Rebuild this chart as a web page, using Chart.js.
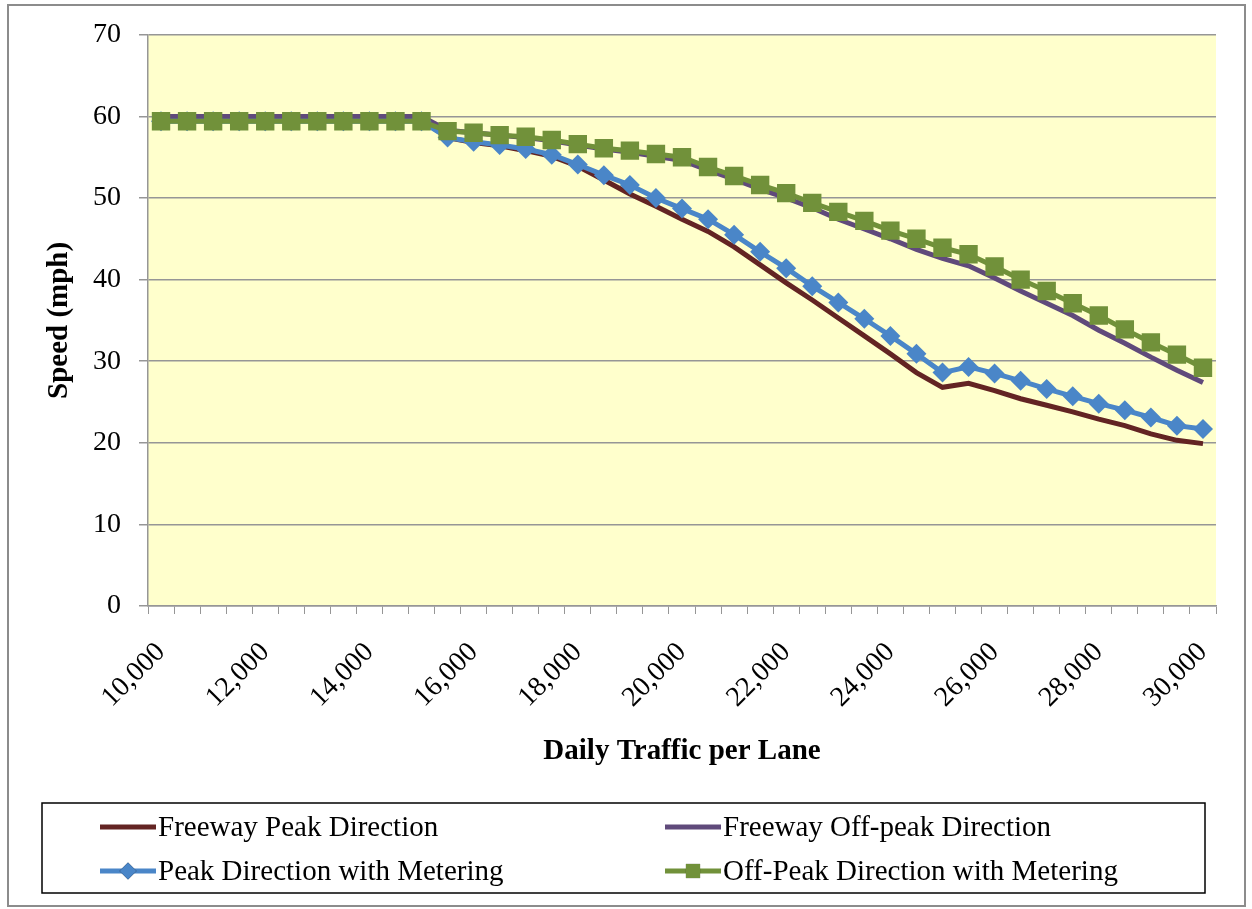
<!DOCTYPE html>
<html>
<head>
<meta charset="utf-8">
<title>Speed vs Daily Traffic per Lane</title>
<script src="https://cdn.jsdelivr.net/npm/chart.js@4.4.0/dist/chart.umd.min.js"></script>
<style>
  * { margin: 0; padding: 0; }
  body { background: #fff; }
  #chart { display: block; }
</style>
</head>
<body>
<canvas id="chart" width="1252" height="909"></canvas>
<script>
// daily traffic per lane (categories)
const traffic = [10000, 10500, 11000, 11500, 12000, 12500, 13000, 13500, 14000, 14500,
                 15000, 15500, 16000, 16500, 17000, 17500, 18000, 18500, 19000, 19500,
                 20000, 20500, 21000, 21500, 22000, 22500, 23000, 23500, 24000, 24500,
                 25000, 25500, 26000, 26500, 27000, 27500, 28000, 28500, 29000, 29500, 30000];

// speeds (mph)
const freewayPeak = [59.6, 59.6, 59.6, 59.6, 59.6, 59.6, 59.6, 59.6, 59.6, 59.6,
                     59.6, 57.4, 56.8, 56.4, 55.8, 55.1, 53.9, 52.2, 50.5, 49.0,
                     47.4, 45.9, 44.0, 41.8, 39.6, 37.5, 35.3, 33.1, 30.9, 28.6,
                     26.8, 27.3, 26.4, 25.4, 24.6, 23.8, 22.9, 22.1, 21.1, 20.3, 19.9];
const freewayOffPeak = [60.0, 60.0, 60.0, 60.0, 60.0, 60.0, 60.0, 60.0, 60.0, 60.0,
                        60.0, 58.3, 58.0, 57.7, 57.4, 57.0, 56.5, 56.0, 55.6, 55.1,
                        54.6, 53.4, 52.3, 51.1, 50.0, 48.8, 47.4, 46.2, 45.0, 43.7,
                        42.6, 41.7, 40.2, 38.6, 37.1, 35.6, 33.8, 32.2, 30.5, 28.9, 27.4];
const peakMetering = [59.4, 59.4, 59.4, 59.4, 59.4, 59.4, 59.4, 59.4, 59.4, 59.4,
                      59.4, 57.4, 56.9, 56.5, 56.0, 55.3, 54.1, 52.8, 51.6, 50.0,
                      48.7, 47.4, 45.5, 43.4, 41.4, 39.2, 37.2, 35.2, 33.1, 30.9,
                      28.6, 29.3, 28.5, 27.6, 26.6, 25.7, 24.8, 24.0, 23.1, 22.1, 21.7];
const offPeakMetering = [59.4, 59.4, 59.4, 59.4, 59.4, 59.4, 59.4, 59.4, 59.4, 59.4,
                         59.4, 58.2, 58.0, 57.7, 57.5, 57.1, 56.6, 56.1, 55.8, 55.4,
                         55.0, 53.8, 52.7, 51.6, 50.6, 49.4, 48.3, 47.2, 46.0, 45.0,
                         43.9, 43.1, 41.6, 40.0, 38.6, 37.1, 35.6, 33.9, 32.3, 30.8, 29.2];

const seriesNames = ['Freeway Peak Direction', 'Freeway Off-peak Direction',
                     'Peak Direction with Metering', 'Off-Peak Direction with Metering'];

const FONT = 'Liberation Serif, "Times New Roman", serif';
const GRID = '#969696';

// plot background + outer frame
const bgPlugin = {
  id: 'bg',
  beforeDraw(chart) {
    const ctx = chart.ctx, a = chart.chartArea;
    ctx.save();
    ctx.fillStyle = '#fff';
    ctx.fillRect(0, 0, chart.width, chart.height);
    ctx.fillStyle = '#FFFFCC';
    ctx.fillRect(a.left, a.top, a.right - a.left, a.bottom - a.top);
    ctx.restore();
  },
  afterDraw(chart) {
    const ctx = chart.ctx;
    ctx.save();
    ctx.strokeStyle = '#8c8c8c';
    ctx.lineWidth = 2;
    ctx.strokeRect(8, 5, 1237, 901);
    ctx.restore();
  }
};

// boxed legend in two columns under the axis title
const legendPlugin = {
  id: 'boxLegend',
  afterDraw(chart) {
    const ctx = chart.ctx;
    ctx.save();
    ctx.strokeStyle = '#000';
    ctx.lineWidth = 1.5;
    ctx.strokeRect(42, 803, 1163, 90);
    const slots = [[100, 827], [665, 827], [100, 871], [665, 871]];
    chart.data.datasets.forEach((ds, i) => {
      const [x, y] = slots[i];
      ctx.strokeStyle = ds.borderColor;
      ctx.lineWidth = 5;
      ctx.beginPath();
      ctx.moveTo(x, y);
      ctx.lineTo(x + 56, y);
      ctx.stroke();
      if (ds.pointRadius > 0) {
        Chart.helpers.drawPoint(ctx, {
          pointStyle: ds.pointStyle,
          radius: ds.pointStyle === 'rect' ? 10 : 8.5,
          borderWidth: 0
        }, x + 28, y);
        ctx.fillStyle = ds.backgroundColor;
        ctx.fill();
      }
      ctx.fillStyle = '#000';
      ctx.font = '29px ' + FONT;
      ctx.textBaseline = 'middle';
      ctx.textAlign = 'left';
      ctx.fillText(ds.label, x + 58, y + 1);
    });
    ctx.restore();
  }
};

function lineSet(label, data, color, style, radius, width, order) {
  return {
    label: label,
    data: data,
    borderColor: color,
    backgroundColor: color,
    borderWidth: width,
    pointStyle: style,
    pointRadius: radius,
    pointBorderWidth: 0,
    pointBackgroundColor: color,
    tension: 0,
    order: order
  };
}

const config = {
  type: 'line',
  data: {
    labels: traffic,
    datasets: [
      lineSet(seriesNames[0], freewayPeak, '#632423', 'circle', 0, 5, 4),
      lineSet(seriesNames[1], freewayOffPeak, '#604A7B', 'circle', 0, 5, 3),
      lineSet(seriesNames[2], peakMetering, '#4A86C8', 'rectRot', 10, 5, 2),
      lineSet(seriesNames[3], offPeakMetering, '#71913A', 'rect', 13, 5, 1)
    ]
  },
  options: {
    responsive: false,
    animation: false,
    devicePixelRatio: 1,
    layout: { padding: { left: 8, top: 33, right: 36, bottom: 133 } },
    plugins: {
      legend: { display: false },
      tooltip: { enabled: false }
    },
    scales: {
      x: {
        type: 'category',
        offset: true,
        grid: { display: true, drawOnChartArea: false, drawTicks: true, tickLength: 8, offset: true, color: GRID },
        border: { display: true, color: GRID, width: 1.5 },
        ticks: {
          autoSkip: false,
          minRotation: 45,
          maxRotation: 45,
          padding: 22,
          color: '#000',
          font: { family: FONT, size: 28 },
          callback: function (val, index) {
            return index % 4 === 0 ? Number(this.getLabelForValue(val)).toLocaleString('en-US') : '';
          }
        },
        title: {
          display: true,
          text: 'Daily Traffic per Lane',
          color: '#000',
          font: { family: FONT, size: 29, weight: 'bold' },
          padding: { top: 0, bottom: 7 }
        },
        afterFit(scale) { scale.height = 170; }
      },
      y: {
        min: 0,
        max: 70,
        ticks: {
          stepSize: 10,
          padding: 18,
          color: '#000',
          font: { family: FONT, size: 28 }
        },
        grid: { color: GRID, lineWidth: 1.5, drawTicks: true, tickLength: 9 },
        border: { display: true, color: GRID, width: 1.5 },
        title: {
          display: true,
          text: 'Speed (mph)',
          color: '#000',
          font: { family: FONT, size: 29, weight: 'bold' },
          padding: { top: 34, bottom: 0 }
        },
        afterFit(scale) { scale.width = 140; }
      }
    }
  },
  plugins: [bgPlugin, legendPlugin]
};

const chart = new Chart(document.getElementById('chart'), config);
</script>
</body>
</html>
